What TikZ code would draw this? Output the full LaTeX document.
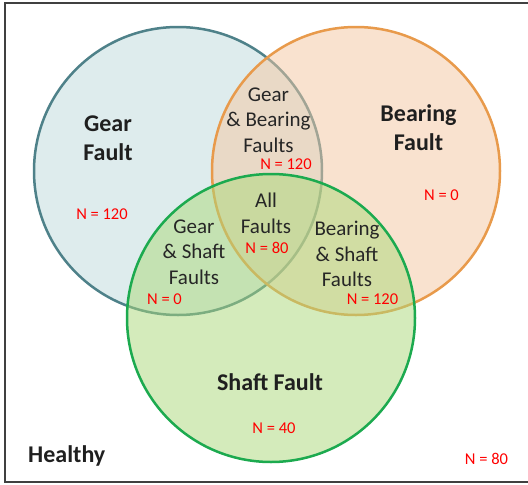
\documentclass[tikz,border=0pt]{standalone}
\usepackage{fontspec}
\setmainfont{Carlito}
\usetikzlibrary{positioning}
\definecolor{gearfill}{RGB}{191,219,221}
\definecolor{gearline}{RGB}{78,129,137}
\definecolor{bearfill}{RGB}{245,199,161}
\definecolor{bearline}{RGB}{232,154,75}
\definecolor{shaftfill}{RGB}{171,217,121}
\definecolor{shaftline}{RGB}{28,170,79}
\definecolor{frameline}{RGB}{64,64,64}
\tikzset{
    set/.style = {circle, minimum size=288pt, inner sep=0pt,
        line width=2.5pt, fill opacity=0.5},
    title/.style = {inner sep=0pt, align=center, text=black!88,
        font=\fontsize{24}{29.3}\selectfont\bfseries},
    region/.style = {inner sep=0pt, align=center, text=black!85,
        font=\fontsize{21}{25.6}\selectfont},
    count/.style = {inner sep=0pt, text=red,
        font=\fontsize{16.5}{20}\selectfont}
}
\begin{document}
\begin{tikzpicture}[x=1pt,y=-1pt]
    \useasboundingbox (0,0) rectangle (528,485);
    \fill[white] (0,0) rectangle (528,485);
    \draw[frameline, line width=2.2pt] (528,3) -- (5,3) -- (5,482) -- (528,482);

    \node [set, draw=gearline, fill=gearfill] (gear) at (178,171) {};
    \node [set, draw=bearline, fill=bearfill] (bearing) at (356,171) {};
    \node [set, draw=shaftline, fill=shaftfill] (shaft) at (271,318) {};

    \node [title] (geart) at (108,138.5) {Gear\\Fault};
    \node [title] (beart) at (418.5,127.5) {Bearing\\Fault};
    \node [title] (shaftt) at (270,382.5) {Shaft Fault};
    \node [title, anchor=base west] (healthy) at (28,462) {Healthy};

    \node [region] (gb) at (268.5,120) {Gear\\\& Bearing\\Faults};
    \node [region] (all) at (266,213) {All\\Faults};
    \node [region] (gs) at (194,252) {Gear\\\& Shaft\\Faults};
    \node [region] (bs) at (347,254) {Bearing\\\& Shaft\\Faults};

    \node [count] (ngear) at (102,214.5) {N = 120};
    \node [count] (ngb) at (286,164.5) {N = 120};
    \node [count] (nbear) at (441.5,195) {N = 0};
    \node [count] (nall) at (267,247.5) {N = 80};
    \node [count] (ngs) at (164.5,299) {N = 0};
    \node [count] (nbs) at (372.5,299) {N = 120};
    \node [count] (nshaft) at (274,428.5) {N = 40};
    \node [count] (nhealthy) at (486.5,458.5) {N = 80};
\end{tikzpicture}
\end{document}
